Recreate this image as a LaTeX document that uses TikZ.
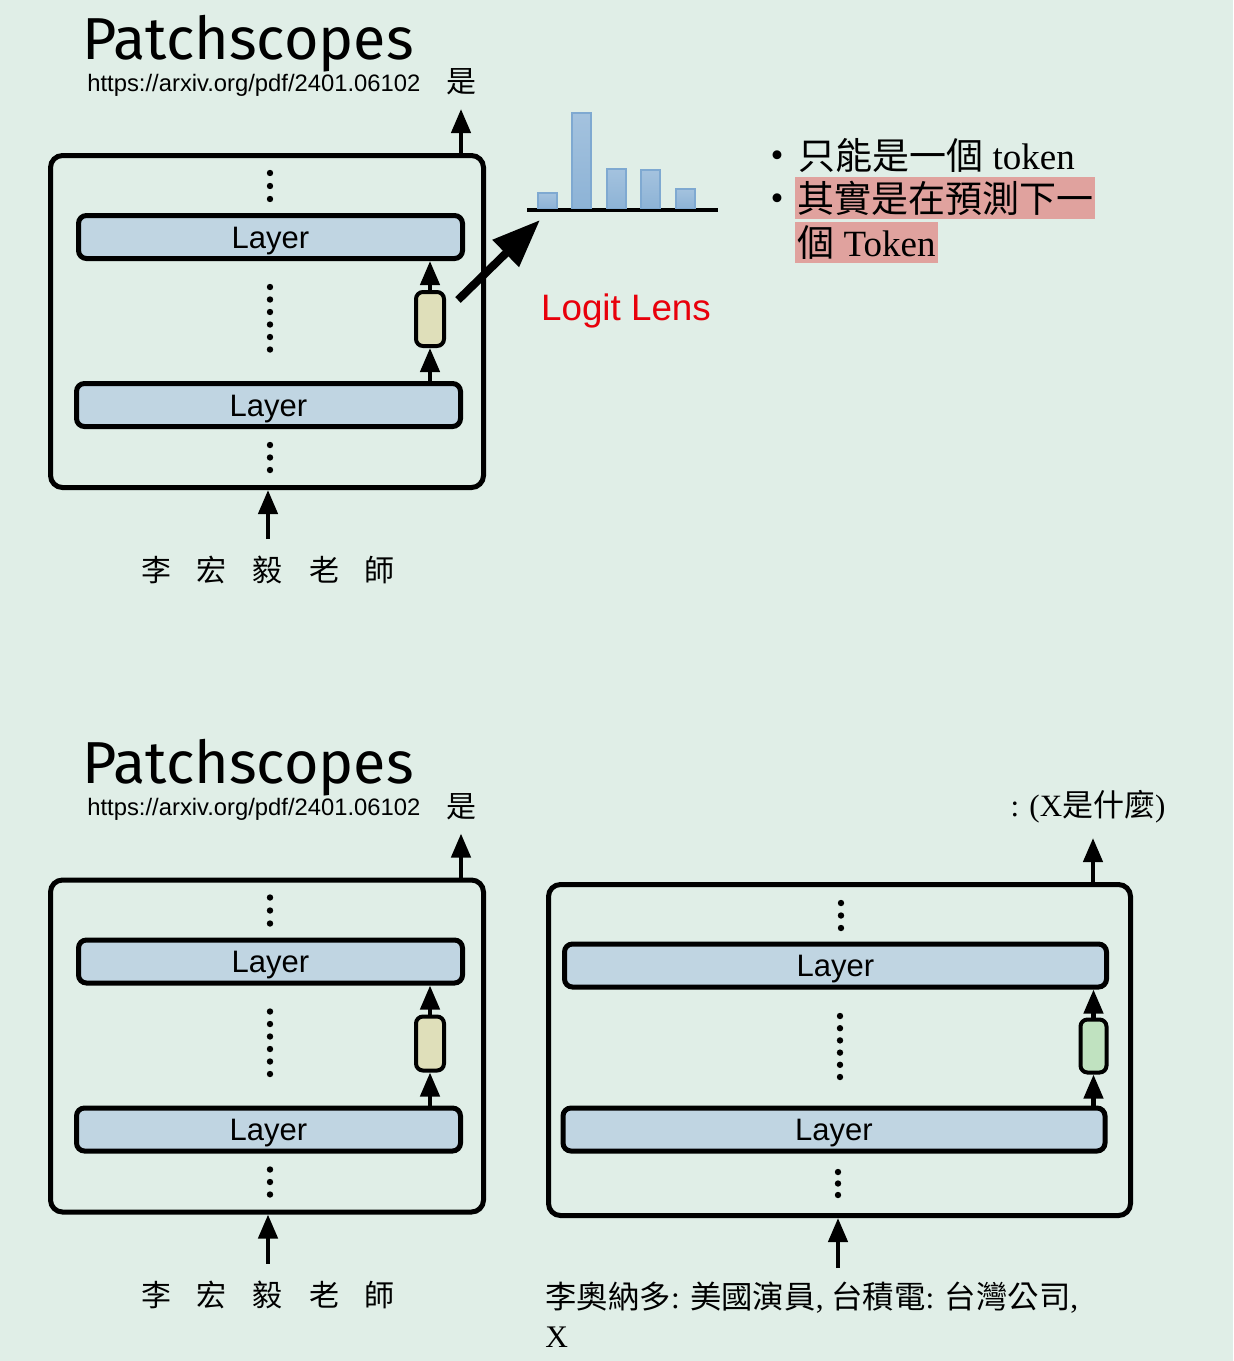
\documentclass[tikz,border=0pt]{standalone}
\usepackage{fontspec}
\setmainfont{Liberation Serif}
\newfontfamily\cjk{Noto Sans CJK TC}
\newfontfamily\arial{Liberation Sans}
\newfontfamily\titlefont{Fira Sans}
\usetikzlibrary{arrows.meta,positioning}

\definecolor{bg}{HTML}{E0EEE7}
\definecolor{layerblue}{HTML}{C0D5E2}
\definecolor{vecyellow}{HTML}{DFDFBA}
\definecolor{vecgreen}{HTML}{C0E2C0}
\definecolor{barblue}{HTML}{8DB3D6}
\definecolor{barline}{HTML}{7FA9D1}
\definecolor{hilite}{HTML}{E0A29E}
\definecolor{lensred}{HTML}{E8000B}

\tikzset{
  model/.style={draw, line width=2.5pt, rounded corners=6pt, inner sep=0pt},
  layerbox/.style={draw, line width=2.5pt, rounded corners=4pt, fill=layerblue,
    inner sep=0pt, minimum height=21.5pt, text height=11.1pt, text depth=0pt,
    font=\arial\fontsize{15.5}{17}\selectfont},
  vecbox/.style={draw, line width=2pt, rounded corners=3.5pt, inner sep=0pt},
  flow/.style={line width=2.2pt, -{Triangle[width=9.5pt,length=12pt]}},
  bar/.style={draw=barline, line width=0.6pt, top color=barblue!80, bottom color=barblue},
  dot/.style={fill=black},
}

\begin{document}
\begin{tikzpicture}[x=0.5pt,y=-0.5pt]
  \fill[bg] (0,0) rectangle (1233,1361);
  \useasboundingbox (0,0) rectangle (1233,1361);

  % left model, drawn twice
  \foreach \oy/\s in {0/a,724.5/b}{
    \begin{scope}[shift={(0,\oy)}]
      \node[anchor=base west, font=\titlefont\fontsize{29.6}{32}\selectfont, inner sep=0pt]
        (title\s) at (82,59) {Patchscopes};
      \node[anchor=base west, font=\arial\fontsize{11.9}{14}\selectfont, inner sep=0pt]
        (url\s) at (87,91) {https://arxiv.org/pdf/2401.06102};
      \node[font=\cjk\fontsize{15}{17}\selectfont, inner sep=0pt] (out\s) at (461,82) {是};

      \node[model, minimum width=216.5pt, minimum height=166pt] (box\s) at (267,321.5) {};
      \node[layerbox, minimum width=192pt] (top\s) at (270.5,237) {Layer};
      \node[layerbox, minimum width=192pt] (low\s) at (268.5,405) {Layer};
      \node[vecbox, fill=vecyellow, minimum width=14pt, minimum height=27pt] (vec\s) at (430,319) {};

      \foreach \y in {173,186,199} \fill[dot] (270,\y) circle (1.6pt);
      \foreach \y in {287,299.5,312,324.5,337,349.5} \fill[dot] (270,\y) circle (1.6pt);
      \foreach \y in {445,457.5,470} \fill[dot] (270,\y) circle (1.6pt);

      \coordinate (up\s) at (461,109);
      \coordinate (in\s) at (268,539);
      \draw[flow] (box\s.north -| up\s) -- (up\s);
      \draw[flow] (in\s) -- (in\s |- box\s.south);
      \draw[flow] (low\s.north -| vec\s) -- (vec\s.south);
      \draw[flow] (vec\s.north) -- (top\s.south -| vec\s);

      \node[font=\cjk\fontsize{15}{17}\selectfont, inner sep=0pt] (src\s) at (268,570)
        {李\hspace{13pt}宏\hspace{13pt}毅\hspace{13pt}老\hspace{13pt}師};
    \end{scope}
  }

  % logit lens
  \draw[line width=1.6pt] (527,210) -- (718,210);
  \foreach \x/\h in {538/193,572/113,607/169,641/170,676/189}
    \draw[bar] (\x,208.5) rectangle (\x+19,\h);
  \coordinate (lensfrom) at (458,300);
  \coordinate (lenstip) at (540,220);
  \draw[line width=4pt, -{Triangle[width=18pt,length=24pt]}] (lensfrom) -- (lenstip);
  \node[font=\arial\fontsize{18.4}{20}\selectfont, text=lensred, inner sep=0pt] (lens) at (626,311) {Logit Lens};

  \node[font=\fontsize{18.5}{20}\selectfont, inner sep=0pt] (dot1) at (777,159) {\textbullet};
  \node[font=\fontsize{18.5}{20}\selectfont, inner sep=0pt] (dot2) at (777,202) {\textbullet};
  \node[anchor=west, font=\fontsize{18.5}{20}\selectfont, inner sep=1pt] (line1) at (796,155)
    {{\cjk 只能是一個} token};
  \node[anchor=west, font=\fontsize{18.5}{20}\selectfont, fill=hilite, inner xsep=1pt, inner ysep=0pt,
    minimum height=21pt] (line2) at (795,198) {{\cjk 其實是在預測下一}};
  \node[anchor=west, font=\fontsize{18.5}{20}\selectfont, fill=hilite, inner xsep=1pt, inner ysep=0pt,
    minimum height=20.5pt] (line3) at (795,242.5) {{\cjk 個} Token};

  % right model
  \node[model, minimum width=291pt, minimum height=165.5pt] (boxr) at (839.5,1050) {};
  \node[layerbox, minimum width=271pt] (topr) at (835.5,965.5) {Layer};
  \node[layerbox, minimum width=271pt] (lowr) at (834,1129.5) {Layer};
  \node[vecbox, fill=vecgreen, minimum width=13pt, minimum height=26.5pt] (vecr) at (1093.5,1046) {};

  \foreach \y in {903,915.5,928} \fill[dot] (841,\y) circle (1.6pt);
  \foreach \y in {1016,1028.2,1040.4,1052.6,1064.8,1077} \fill[dot] (840,\y) circle (1.6pt);
  \foreach \y in {1172,1183.5,1195} \fill[dot] (838,\y) circle (1.6pt);

  \coordinate (upr) at (1093,838);
  \coordinate (inr) at (838,1268);
  \draw[flow] (boxr.north -| upr) -- (upr);
  \draw[flow] (inr) -- (inr |- boxr.south);
  \draw[flow] (lowr.north -| vecr) -- (vecr.south);
  \draw[flow] (vecr.north) -- (topr.south -| vecr);

  \node[font=\fontsize{15.5}{17}\selectfont, inner sep=0pt] (outr) at (1088,807) {: (X{\cjk 是什麼})};
  \node[anchor=west, font=\fontsize{15.7}{17}\selectfont, inner sep=0pt] (prompt) at (545,1298)
    {{\cjk 李奧納多}: {\cjk 美國演員}, {\cjk 台積電}: {\cjk 台灣公司},};
  \node[anchor=west, font=\fontsize{15.7}{17}\selectfont, inner sep=0pt] (promptx) at (545,1337) {X};
\end{tikzpicture}
\end{document}
